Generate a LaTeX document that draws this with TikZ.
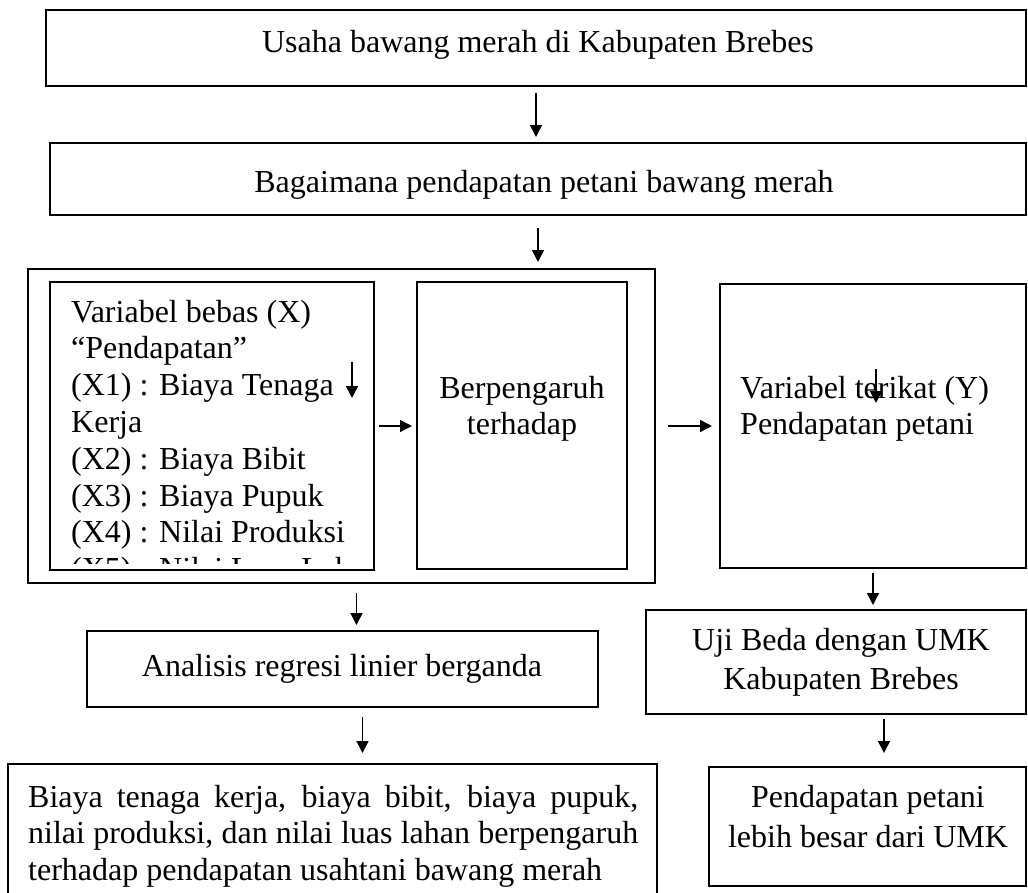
\documentclass[tikz,border=0pt]{standalone}
\usepackage{fontspec}
\setmainfont{Liberation Serif}
\usetikzlibrary{arrows.meta}
\tikzstyle{kanvas} = [x = 1pt, y = -1pt]
\tikzstyle{kotakStyle} = [draw, line width = 1.5pt, inner sep = 0pt, outer sep = 0pt, anchor = north west]
\tikzstyle{teksStyle} = [font = \fontsize{32}{36.8}\selectfont, inner sep = 0pt]
\tikzstyle{panahStyle} = [line width = 1.5pt, -{Triangle[length = 12pt, width = 12pt]}]
\newcommand{\kotak}[5]{\node [kotakStyle, minimum width = {(#4 - #2) * 1pt}, minimum height = {(#5 - #3) * 1pt}] (#1) at (#2, #3) {};}

\begin{document}
\begin{tikzpicture}[kanvas]
  \clip (0, 0) rectangle (1028, 892);
  % kotak
  \kotak{usaha}{46}{10}{1026}{86}
  \kotak{tanya}{50}{143}{1026}{215}
  \kotak{luar}{28}{269}{655}{583}
  \kotak{bebas}{50}{282}{374}{570}
  \kotak{pengaruh}{417}{282}{627}{569}
  \kotak{terikat}{720}{284}{1026}{568}
  \kotak{analisis}{87}{631}{598}{707}
  \kotak{uji}{646}{610}{1026}{714}
  \kotak{hasil}{8}{764}{657}{910}
  \kotak{lebih}{709}{767}{1026}{886}

  % teks
  \node [teksStyle, anchor = base] (usahaTeks) at (538, 52) {Usaha bawang merah di Kabupaten Brebes};
  \node [teksStyle, anchor = base] (tanyaTeks) at (544, 192) {Bagaimana pendapatan petani bawang merah};
  \begin{scope}
    \clip (51, 283) rectangle (373, 563);
    \node [teksStyle, anchor = base west, align = flush left, text width = 420pt] (bebasTeks) at (71, 322)
      {Variabel bebas (X)\\“Pendapatan”\\(X1) : Biaya Tenaga\\Kerja\\(X2) : Biaya Bibit\\(X3) : Biaya Pupuk\\(X4) : Nilai Produksi\\(X5) : Nilai Luas Lahan};
  \end{scope}
  \node [teksStyle, anchor = base, align = flush center, text width = 200pt] (pengaruhTeks) at (522, 398) {Berpengaruh\\terhadap};
  \node [teksStyle, anchor = base west, align = flush left, text width = 280pt] (terikatTeks) at (740, 398) {Variabel terikat (Y)\\Pendapatan petani};
  \node [teksStyle, anchor = base] (analisisTeks) at (342, 676) {Analisis regresi linier berganda};
  \node [teksStyle, anchor = base, align = flush center, text width = 370pt] (ujiTeks) at (841, 650) {Uji Beda dengan UMK\\[3pt]Kabupaten Brebes};
  \node [teksStyle, anchor = base west, align = justify, text width = 610pt] (hasilTeks) at (28, 807)
    {Biaya tenaga kerja, biaya bibit, biaya pupuk,\linebreak nilai produksi, dan nilai luas lahan berpengaruh\linebreak terhadap pendapatan usahtani bawang merah};
  \node [teksStyle, anchor = base, align = flush center, text width = 310pt] (lebihTeks) at (868, 807) {Pendapatan petani\\[4pt]lebih besar dari UMK};

  % panah
  \coordinate (bebasAtas) at (352, 362);
  \coordinate (bebasBawah) at (352, 398);
  \coordinate (terikatAtas) at (876, 369);
  \coordinate (terikatBawah) at (876, 403);
  \draw [panahStyle, shorten <= 7pt, shorten >= 6pt] (usaha.south) -- (usaha.south |- tanya.north);
  \draw [panahStyle, shorten <= 13pt, shorten >= 7pt] (tanya.south) -- (tanya.south |- luar.north);
  \draw [panahStyle, shorten <= 5pt, shorten >= 5pt] (bebas.east) -- (bebas.east -| pengaruh.west);
  \draw [panahStyle, shorten <= 13pt, shorten >= 8pt] (luar.east) -- (luar.east -| terikat.west);
  \draw [panahStyle, shorten <= 10pt, shorten >= 6pt] ([xshift = 15pt]luar.south) -- ([xshift = 15pt]luar.south |- analisis.north);
  \draw [panahStyle, shorten <= 5pt, shorten >= 5pt] (terikat.south) -- (terikat.south |- uji.north);
  \draw [panahStyle, shorten <= 10pt, shorten >= 11pt] ([xshift = 20pt]analisis.south) -- ([xshift = 20pt]analisis.south |- hasil.north);
  \draw [panahStyle, shorten <= 5pt, shorten >= 14pt] ([xshift = 48pt]uji.south) -- ([xshift = 48pt]uji.south |- lebih.north);
  \draw [panahStyle] (bebasAtas) -- (bebasBawah);
  \draw [panahStyle] (terikatAtas) -- (terikatBawah);
\end{tikzpicture}
\end{document}
